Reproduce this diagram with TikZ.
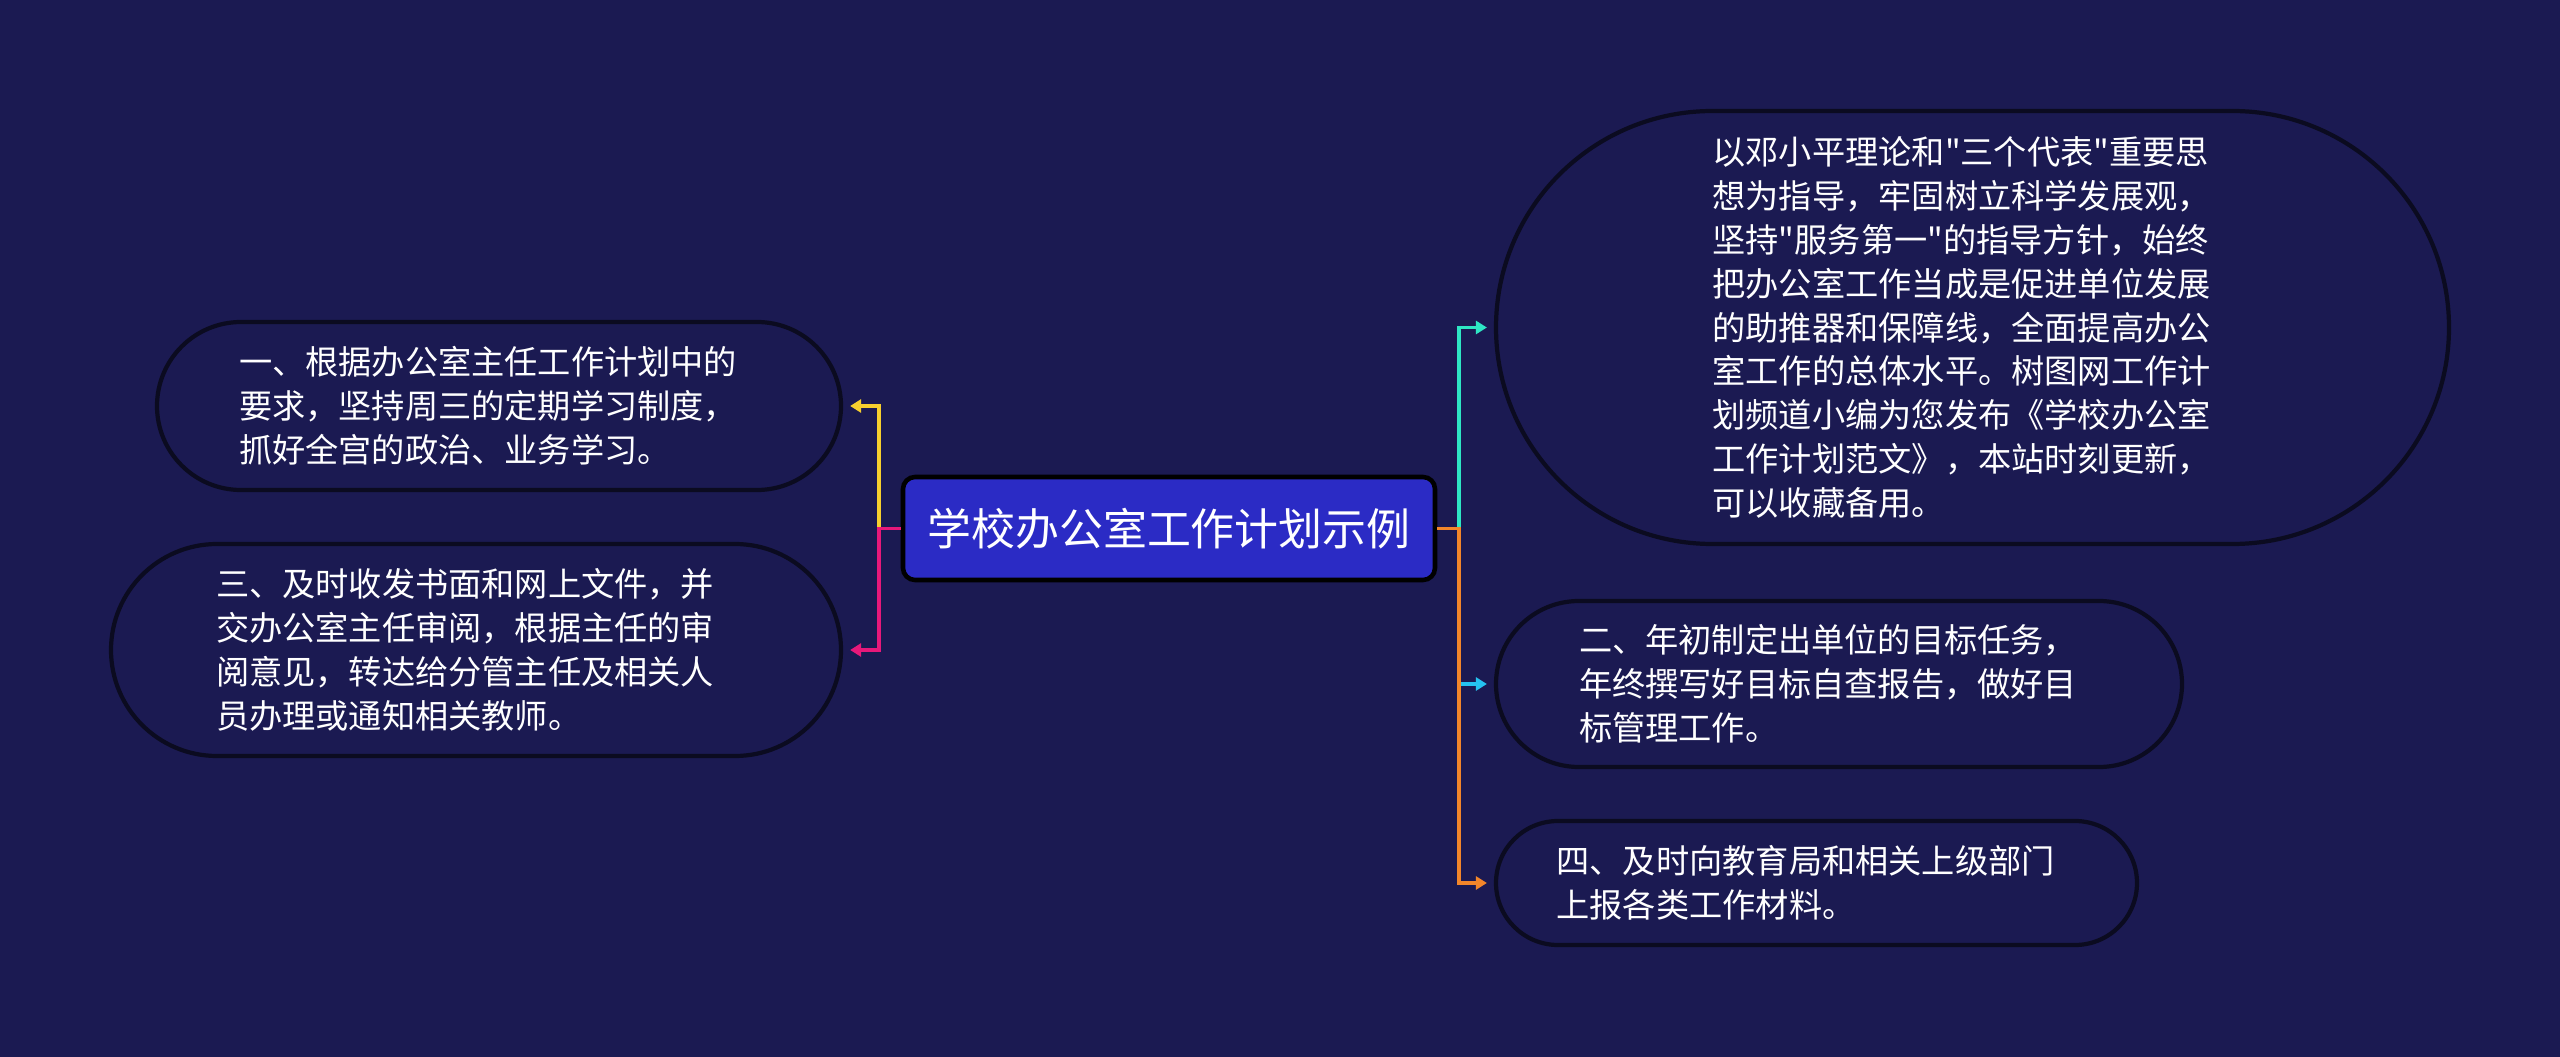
\documentclass[tikz,border=0pt]{standalone}
\usepackage{fontspec}
\setmainfont{Noto Sans CJK SC}[Ligatures=TeXOff]
\usepackage{xcolor}
\usepackage{tikz}
\usetikzlibrary{arrows.meta,shapes.misc}

\definecolor{bgnavy}{HTML}{1B1A52}
\definecolor{rootblue}{HTML}{2B2BC5}
\definecolor{leafline}{HTML}{0B0B20}
\definecolor{teal}{HTML}{2EE6C4}
\definecolor{sky}{HTML}{25C2F0}
\definecolor{amber}{HTML}{F3862A}
\definecolor{gold}{HTML}{F7CF2E}
\definecolor{rose}{HTML}{E8187A}

\begin{document}
\begin{tikzpicture}[
  font=\fontsize{9.45pt}{12.5pt}\selectfont,
  leaf/.style={draw=leafline, line width=1.2pt, rounded rectangle, fill=bgnavy,
    text=white, align=left, text width=5.2cm, inner sep=0pt},
  rootbox/.style={draw=black, line width=1.3pt, rounded corners=0.12cm, fill=rootblue,
    text=white, font=\fontsize{12.5pt}{15pt}\selectfont,
    minimum width=5.32cm, minimum height=1.03cm, inner sep=0pt},
  arr/.style={-{Triangle[length=1.1mm, width=1.3mm]}, line width=1.1pt, shorten >=0.07cm}
]
\fill[bgnavy] (0,0) rectangle (25.6,-10.57);

\node[rootbox] (root) at (11.69,-5.285) {学校办公室工作计划示例};

% left side
\node[leaf, minimum width=6.84cm, minimum height=1.68cm] (lone) at (4.99,-4.06)
  {一、根据办公室主任工作计划中的\\要求，坚持周三的定期学习制度，\\抓好全宫的政治、业务学习。};
\node[leaf, minimum width=7.30cm, minimum height=2.12cm] (lthree) at (4.76,-6.50)
  {三、及时收发书面和网上文件，并\\交办公室主任审阅，根据主任的审\\阅意见，转达给分管主任及相关人\\员办理或通知相关教师。};

% right side
\node[leaf, minimum width=9.53cm, minimum height=4.33cm] (rtop) at (19.725,-3.275)
  {以邓小平理论和"三个代表"重要思\\想为指导，牢固树立科学发展观，\\坚持"服务第一"的指导方针，始终\\把办公室工作当成是促进单位发展\\的助推器和保障线，全面提高办公\\室工作的总体水平。树图网工作计\\划频道小编为您发布《学校办公室\\工作计划范文》，本站时刻更新，\\可以收藏备用。};
\node[leaf, minimum width=6.86cm, minimum height=1.66cm] (rtwo) at (18.39,-6.84)
  {二、年初制定出单位的目标任务，\\年终撰写好目标自查报告，做好目\\标管理工作。};
\node[leaf, minimum width=6.41cm, minimum height=1.24cm] (rfour) at (18.165,-8.83)
  {四、及时向教育局和相关上级部门\\上报各类工作材料。};

\draw[arr, gold] (root.west) -- ++(-0.22,0) |- (lone.east);
\draw[arr, rose] (root.west) -- ++(-0.22,0) |- (lthree.east);
\draw[arr, sky] (root.east) -- ++(0.22,0) |- (rtwo.west);
\draw[arr, teal] (root.east) -- ++(0.22,0) |- (rtop.west);
\draw[arr, amber] (root.east) -- ++(0.22,0) |- (rfour.west);
\end{tikzpicture}
\end{document}
